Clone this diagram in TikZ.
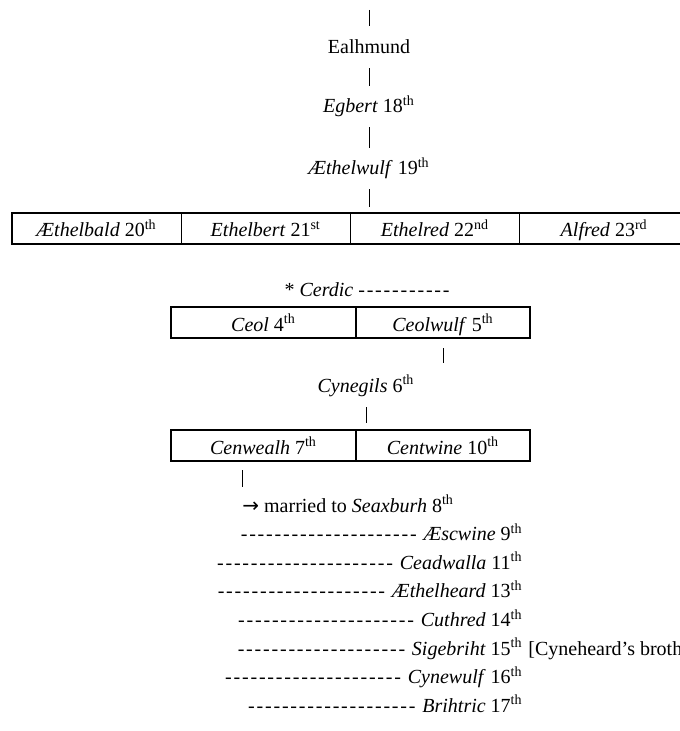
\documentclass[tikz,border=0pt]{standalone}
\usepackage{fontspec}
\setmainfont{Liberation Serif}
\newfontfamily\arrowfont{DejaVu Sans}
\usetikzlibrary{positioning}
\newcommand\hyphens[1]{\foreach\k in {1,...,#1}{-\kern0.9pt}}

\begin{document}
\begin{tikzpicture}[x=0.5pt, y=-0.5pt,
  txt/.style={inner sep=0pt, text height=9pt, text depth=0pt, font=\fontsize{10}{12}\selectfont},
  cell/.style={draw, line width=0.7pt, inner sep=0pt, outer sep=0pt, minimum height=15.5pt, text height=10pt, text depth=1.5pt, font=\fontsize{10}{12}\selectfont},
  pipe/.style={line width=0.45pt, shorten <=7pt, shorten >=4.5pt}]
\useasboundingbox (0,0) rectangle (679,731);
\coordinate (top) at (369,10);
\node[txt, anchor=base] (ealh) at (369,54) {Ealhmund};
\node[txt, anchor=base] (egb) at (369,113) {\textit{Egbert} 18\textsuperscript{th}};
\node[txt, anchor=base] (ethw) at (369,175) {\textit{Æthelwulf} 19\textsuperscript{th}};
\node[cell, minimum width=84.6pt, anchor=west] (aethb) at (12,228.5) {\textit{Æthelbald} 20\textsuperscript{th}};
\node[cell, minimum width=84.6pt, right=0pt of aethb] (ethb) {\textit{Ethelbert} 21\textsuperscript{st}};
\node[cell, minimum width=84.6pt, right=0pt of ethb] (ethr) {\textit{Ethelred} 22\textsuperscript{nd}};
\node[cell, minimum width=84.6pt, right=0pt of ethr] (alf) {\textit{Alfred} 23\textsuperscript{rd}};
\draw[pipe, shorten <=0pt, shorten >=5pt] (top) -- (ealh.north);
\draw[pipe] (ealh.south) -- (egb.north);
\draw[pipe] (egb.south) -- (ethw.north);
\draw[pipe, shorten >=3pt] (ethw.south) -- (ethw.south |- ethr.north);

\node[txt, anchor=base] (cerd) at (368,297) {* \textit{Cerdic} \hyphens{11}};
\node[cell, minimum width=92.5pt, anchor=west] (ceol) at (171,322.5) {\textit{Ceol} 4\textsuperscript{th}};
\node[cell, minimum width=87pt, right=0pt of ceol] (ceolw) {\textit{Ceolwulf} 5\textsuperscript{th}};
\node[txt, anchor=base] (cyneg) at (366,392) {\textit{Cynegils} 6\textsuperscript{th}};
\node[cell, minimum width=92.5pt, anchor=west] (cenw) at (171,445.5) {\textit{Cenwealh} 7\textsuperscript{th}};
\node[cell, minimum width=87pt, right=0pt of cenw] (centw) {\textit{Centwine} 10\textsuperscript{th}};
\draw[pipe, shorten <=5pt, shorten >=5.5pt] (ceolw.south) -- (ceolw.south |- cyneg.north);
\draw[pipe, shorten <=7.5pt, shorten >=3.5pt] (cyneg.south) -- (cyneg.south |- cenw.north);

\node[txt, anchor=base west] (marr) at (242,512) {{\arrowfont →} married to \textit{Seaxburh} 8\textsuperscript{th}};
\draw[pipe, shorten <=4.5pt, shorten >=3.5pt] (marr.west |- cenw.south) -- (marr.north west);
\node[txt, anchor=base east] (aesc) at (523,540.6) {\hyphens{21} \textit{Æscwine} 9\textsuperscript{th}};
\node[txt, anchor=base east] (cead) at (523,569.2) {\hyphens{21} \textit{Ceadwalla} 11\textsuperscript{th}};
\node[txt, anchor=base east] (aethh) at (523,597.8) {\hyphens{20} \textit{Æthelheard} 13\textsuperscript{th}};
\node[txt, anchor=base east] (cuth) at (523,626.4) {\hyphens{21} \textit{Cuthred} 14\textsuperscript{th}};
\node[txt, anchor=base east] (sige) at (523,655) {\hyphens{20} \textit{Sigebriht} 15\textsuperscript{th}};
\node[txt, anchor=base west] (sigebro) at ([xshift=2.5pt]sige.base east) {[Cyneheard’s brother]};
\node[txt, anchor=base east] (cynew) at (523,683.6) {\hyphens{21} \textit{Cynewulf} 16\textsuperscript{th}};
\node[txt, anchor=base east] (briht) at (523,712.2) {\hyphens{20} \textit{Brihtric} 17\textsuperscript{th}};
\end{tikzpicture}
\end{document}
